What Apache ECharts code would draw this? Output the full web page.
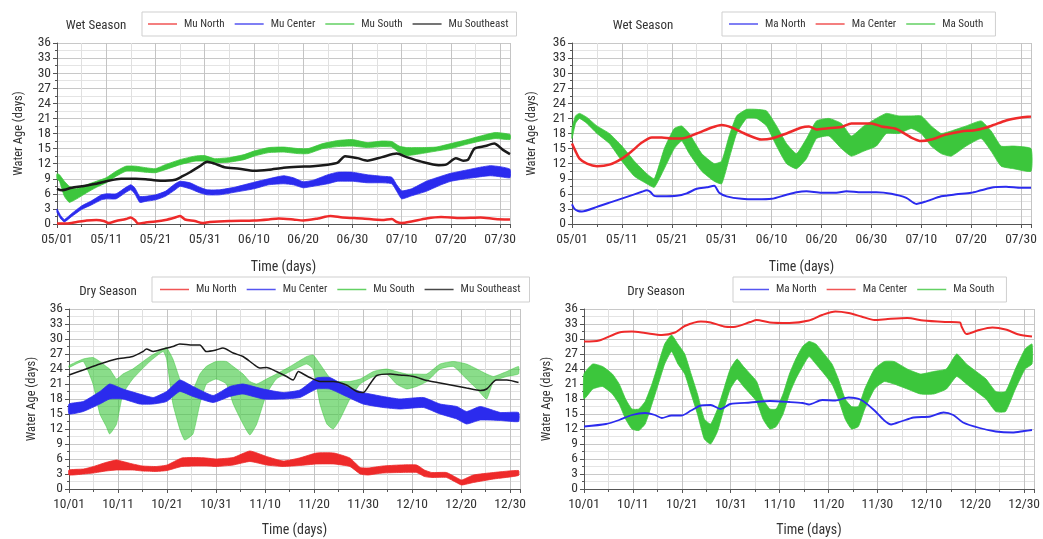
<!DOCTYPE html>
<html><head><meta charset="utf-8">
<script src="https://cdn.jsdelivr.net/npm/echarts@6/dist/echarts.min.js"></script>
<style>html,body{margin:0;padding:0;background:#fff}#c{width:1043px;height:539px}</style>
</head><body><div id="c"></div>
<script>
// ---------- tick labels ----------
const wetTicks = ['05/01','05/11','05/21','05/31','06/10','06/20','06/30','07/10','07/20','07/30'];
const dryTicks = ['10/01','10/11','10/21','10/31','11/10','11/20','11/30','12/10','12/20','12/30'];

// ---------- Wet season, Mu stations: [day, value] or [day, low, high] ----------
const muNorthWet = [[0,0.1],[2,0.1],[4,0.4],[6,0.7],[8,0.8],[9.5,0.6],[10.5,0.2],[12,0.6],[14,1.0],[15,1.3],[15.8,0.8],[16.5,0.1],[18,0.3],[20,0.5],[22,0.8],[24,1.3],[25,1.6],[26,0.9],[28,0.6],[29.5,0.2],[31,0.4],[35,0.6],[40,0.7],[43,0.9],[45,1.1],[48,0.9],[50,0.7],[53,1.1],[55.5,1.6],[58,1.3],[62,1.1],[66,0.8],[68,1.0],[69,0.4],[70,0.2],[72,0.5],[75,1.1],[78,1.4],[82,1.2],[86,1.3],[89,1.0],[92,0.9]];
const muCenterWet = [[0,2.3,3.0],[0.8,1.0,1.6],[1.5,0.4,0.9],[3,1.5,2.1],[5,2.9,3.6],[7,3.8,4.6],[9,4.8,5.8],[10,5.0,6.0],[12,5.0,6.0],[14,6.3,7.3],[15,6.8,7.8],[15.8,6.0,7.2],[16.8,4.3,5.5],[18,4.5,5.5],[20,4.8,5.8],[22,5.5,6.5],[24,6.8,8.0],[25,7.5,8.5],[27,7.0,8.2],[29,6.2,7.3],[30.5,5.8,6.8],[33,5.8,6.8],[36,6.3,7.3],[40,7.0,8.3],[43,7.8,9.0],[46,8.0,9.6],[48,7.8,9.2],[50,7.2,8.4],[52,7.5,8.7],[55,8.0,9.8],[57,8.5,10.3],[60,8.5,10.3],[63,8.2,9.8],[66,8.2,9.5],[68,8.0,9.3],[69,6.5,7.8],[70,5.0,6.6],[72,5.6,7.0],[75,6.5,8.5],[78,7.8,9.5],[80,8.5,10.1],[83,9.0,10.7],[86,9.4,11.3],[88,9.6,11.6],[90,9.4,11.4],[92,9.2,10.9]];
const muSouthWet = [[0,9.0,10.0],[0.5,8.5,9.8],[1.5,5.5,8.5],[2.5,4.3,7.5],[4,5.0,7.0],[6,6.2,7.8],[8,7.3,8.5],[10,8.2,9.2],[12,9.5,10.5],[14,10.5,11.5],[16,10.5,11.5],[18,10.3,11.2],[20,10.2,11.0],[22,10.8,11.8],[25,11.8,12.8],[28,12.5,13.5],[30,12.5,13.6],[32,12.2,13.0],[35,12.3,13.2],[38,12.8,13.8],[40,13.5,14.5],[43,14.2,15.2],[46,14.3,15.3],[49,14.0,15.0],[51,14.0,15.0],[54,15.0,16.0],[57,15.4,16.6],[60,15.5,16.8],[63,15.2,16.2],[66,15.4,16.5],[68,15.3,16.4],[69.5,14.2,15.5],[71,13.6,15.2],[74,14.0,15.2],[77,14.5,15.3],[80,15.0,16.0],[83,15.8,16.7],[86,16.5,17.5],[89,17.0,18.2],[92,16.8,17.8]];
const muSoutheastWet = [[0,7.0],[1,6.7],[3,7.2],[5,7.5],[8,8.0],[10,8.5],[13,9.0],[16,9.0],[18,8.9],[21,8.6],[24,8.8],[25.5,9.5],[27,10.3],[29,11.5],[30.5,12.4],[32,12.0],[34,11.3],[37,11.0],[40,10.6],[43,10.8],[46,11.2],[49,11.4],[52,11.5],[55,11.8],[57,12.2],[58.5,13.5],[61,13.1],[63,12.6],[66,13.3],[69,14.0],[71,13.3],[74,12.4],[77.5,11.7],[79,11.8],[81,13.1],[82.5,12.6],[83.5,12.8],[84.8,15.0],[87,15.5],[88.8,16.0],[90.5,14.8],[92,13.9]];

// ---------- Wet season, Ma stations ----------
const maNorthWet = [[0,3.9],[0.5,3.0],[1.2,2.6],[2,2.5],[5,3.4],[8,4.4],[11,5.4],[14,6.4],[15,6.7],[15.7,6.4],[16.5,5.6],[18,5.5],[21,5.6],[23,6.1],[25,7.0],[27,7.3],[28.5,7.6],[29.5,6.2],[31,5.5],[34,5.0],[37,4.9],[40,5.0],[43,5.8],[45,6.3],[47,6.5],[50,6.2],[53,6.2],[55,6.5],[58,6.3],[61,6.3],[64,6.0],[67,5.2],[69,4.0],[71,4.5],[74,5.5],[77,5.9],[80,6.2],[82,6.7],[84.5,7.3],[87,7.4],[90,7.2],[92,7.2]];
const maCenterWet = [[0,16.0],[0.7,14.5],[1.5,13.0],[3,12.0],[5,11.5],[7.5,11.8],[10,13.0],[12,14.5],[14,16.2],[16,17.2],[18,17.2],[20,17.0],[22,17.0],[25,18.0],[28,19.2],[30,19.7],[32,19.2],[35,17.8],[38,16.8],[40,17.0],[43,18.0],[46,19.2],[47.5,19.4],[49,18.8],[51,19.0],[54,19.3],[56,20.0],[58,20.0],[60,20.0],[62,19.4],[65,18.9],[68,17.2],[70,16.5],[72,16.8],[75,17.8],[78,18.4],[81,18.7],[84,19.5],[87,20.6],[90,21.2],[92,21.4]];
const maSouthWet = [[0,17.0,19.0],[0.7,20.0,21.5],[1.5,21.0,22.0],[3,20.0,21.2],[5,18.0,19.5],[7.5,16.0,18.0],[10,12.5,15.5],[12.5,9.5,12.5],[15,8.0,10.0],[16.5,7.3,9.0],[18.5,11.0,15.0],[20.5,15.0,19.0],[22,16.5,19.5],[23.5,14.0,18.0],[26,10.5,14.0],[28.5,8.5,12.0],[30,8.0,12.5],[31.5,13.0,17.5],[33,18.0,21.5],[35,21.0,22.8],[37,21.0,22.8],[39,19.5,22.5],[41,15.5,19.5],[43,12.0,16.0],[45,11.0,14.0],[47,13.0,17.0],[49,17.0,20.5],[51.5,17.5,21.0],[54,15.0,20.0],[56,13.5,17.5],[58.5,14.5,19.5],[61,15.5,21.0],[63,18.0,22.0],[65.5,18.0,21.5],[68,19.0,21.5],[70,18.0,21.5],[72,15.5,19.5],[74,14.0,18.0],[76,13.5,18.5],[79,15.5,19.5],[82,17.0,20.5],[84,14.5,18.5],[86,11.5,15.5],[88.5,11.0,15.5],[92,10.5,15.0]];

// ---------- Dry season, Mu stations ----------
const muNorthDry = [[0,2.8,3.8],[3,3.0,4.0],[5,3.2,4.5],[7.5,3.6,5.3],[9.7,3.8,5.8],[11,3.8,5.5],[13,3.8,5.0],[15,3.6,4.6],[17.8,3.5,4.5],[20,3.7,4.8],[23,4.5,6.2],[26,4.6,6.3],[28,4.6,6.2],[30,4.5,6.0],[33.5,4.8,6.3],[36.9,5.5,7.6],[40.3,4.8,6.5],[43.7,4.5,5.6],[47,4.7,6.2],[50.5,5.0,7.2],[54,5.0,7.2],[57.3,4.5,6.2],[59.4,3.0,4.3],[61,2.8,4.2],[64,3.2,4.6],[67.5,3.3,4.8],[70.9,3.3,4.8],[72.5,2.5,3.8],[74,2.3,3.3],[77,2.3,3.3],[79,1.3,2.3],[80.1,0.8,1.8],[82.5,1.3,2.8],[86.6,2.0,3.3],[91.7,2.7,3.7]];
const muCenterDry = [[0,15.0,17.0],[2.9,15.5,17.5],[6.3,17.0,19.5],[8.3,18.0,21.0],[11,18.0,20.0],[14.4,17.0,19.0],[17.2,17.0,18.3],[19.9,17.5,19.5],[22.6,19.5,21.8],[25.3,18.5,20.5],[29.4,17.3,18.7],[32.8,18.5,20.5],[35.5,19.0,21.0],[39.6,18.0,20.0],[43.7,18.0,19.3],[47.1,18.3,19.8],[50.5,20.0,22.2],[53.2,20.0,22.3],[56.6,18.5,20.5],[60,17.0,19.3],[64.1,16.3,18.5],[67.5,16.0,18.0],[72.3,16.3,18.3],[75.7,15.0,17.0],[79.1,14.0,16.5],[81.1,13.0,15.5],[83.9,13.8,16.5],[88,13.7,15.3],[91.7,13.5,15.3]];
const muSouthDry = [[0,24.3,24.7],[2.9,25.5,26.0],[4.9,21.0,26.3],[6.3,15.0,25.5],[7.6,12.5,24.5],[8.3,11.0,24.0],[9.7,13.0,22.0],[11,19.0,23.0],[13,22.0,24.0],[16.5,25.5,26.5],[19.2,27.5,28.0],[19.9,26.0,28.3],[21.2,17.0,26.0],[22.6,12.0,22.0],[23.6,9.8,20.0],[25.3,11.0,20.0],[26.7,17.0,23.0],[28,21.0,24.5],[30,22.0,25.5],[32.1,21.0,25.5],[33.5,17.0,24.5],[35.5,13.0,23.0],[36.9,10.8,21.5],[38.3,13.0,21.0],[40.3,19.0,22.0],[42.3,22.0,23.0],[45.1,23.5,24.5],[48.5,25.0,26.5],[49.8,24.0,26.8],[51.2,17.0,25.0],[52.6,13.0,23.0],[53.9,12.0,21.5],[55.3,14.0,21.5],[57.3,18.0,21.5],[59.4,21.0,22.0],[62.1,22.5,23.5],[64.8,23.0,24.0],[66.8,21.0,23.5],[68.9,20.0,23.0],[70.9,20.5,23.0],[73,21.5,23.0],[75.7,24.0,25.0],[78.4,24.5,25.5],[81.1,22.0,25.0],[83.2,20.0,24.0],[85.2,18.0,23.0],[86.6,21.5,22.5],[89.3,22.5,23.5],[91.7,23.0,24.5]];
const muSoutheastDry = [[0,22.8],[2.9,23.8],[6.3,25.0],[9.7,26.0],[13,26.5],[15.1,27.5],[15.8,28.0],[17.2,27.5],[19.2,28.0],[21.2,28.5],[22.6,29.0],[25.3,28.8],[26.7,28.8],[28,27.5],[30,27.8],[31.4,28.2],[33.5,27.2],[35.5,26.5],[37.6,25.0],[38.9,24.2],[40.3,24.3],[42.3,23.5],[44.4,22.5],[45.7,21.8],[46.8,23.5],[47.8,23.0],[49.1,22.3],[51.2,21.5],[53.9,21.5],[56.6,20.8],[58.7,19.5],[60,19.3],[61.4,21.0],[62.8,22.7],[65.5,23.0],[67.5,22.8],[70.3,22.5],[73,21.7],[75.7,21.2],[78.4,20.7],[81.1,20.2],[83.9,19.7],[85.2,20.0],[87.2,21.8],[89.3,21.8],[91.7,21.3]];

// ---------- Dry season, Ma stations ----------
const maNorthDry = [[0,12.5],[4.5,13.0],[7.2,13.8],[9.8,14.8],[12.5,15.2],[14.5,14.8],[15.9,14.2],[17.9,14.7],[19.9,14.7],[21.9,15.7],[23.9,16.7],[25.9,16.8],[27.9,16.0],[29.9,17.0],[34,17.3],[38,17.6],[42,17.4],[44.7,17.2],[46,16.9],[48.7,17.8],[51.4,17.7],[54.1,18.3],[56.7,17.8],[59.4,15.7],[61.4,13.7],[62.8,12.9],[64.8,13.5],[67.4,14.3],[70.8,14.5],[73.5,15.3],[75.5,14.8],[77.5,13.3],[80.9,12.2],[84.2,11.5],[87.6,11.3],[90,11.6],[91.6,11.8]];
const maCenterDry = [[0,29.5],[3.1,29.7],[7.2,31.3],[9.8,31.5],[12.5,31.2],[15.9,30.8],[18.6,31.3],[20.6,32.6],[23.9,33.5],[25.9,33.3],[28.6,32.5],[30.6,32.4],[34,33.4],[35.3,33.8],[38,33.3],[42,33.2],[46,33.7],[48.7,34.8],[51.4,35.5],[54.1,35.2],[56.7,34.5],[59.4,33.8],[62.1,34.0],[66.1,34.2],[69.4,33.7],[74.1,33.4],[76.9,33.3],[77.2,32.5],[78.2,31.0],[80.8,31.8],[83.5,32.3],[86.2,31.9],[88.9,30.9],[91.6,30.5]];
const maSouthDry = [[0,18.0,23.0],[1.8,20.0,25.0],[3.8,20.5,24.5],[5.8,19.0,23.0],[7.2,17.0,21.0],[8.5,14.0,18.0],[9.8,12.0,16.0],[11.2,11.7,16.0],[12.5,13.0,17.5],[13.9,17.0,21.0],[15.2,21.0,25.0],[16.5,25.0,29.0],[17.9,27.5,30.8],[19.2,25.0,29.0],[20.6,23.0,27.0],[21.9,19.0,23.0],[23.2,15.0,19.0],[24.6,10.0,14.0],[25.9,9.0,13.0],[27.3,11.5,16.0],[28.6,16.0,20.0],[29.9,20.0,24.0],[31.3,22.0,26.0],[32.6,20.5,24.5],[34,19.0,23.0],[35.3,17.5,21.5],[36.6,14.0,18.0],[38,12.0,16.0],[39.3,12.5,16.0],[40.7,15.0,19.0],[42,19.0,23.0],[43.3,22.0,26.0],[44.7,24.5,28.5],[46,26.5,29.5],[47.4,25.0,29.0],[48.7,23.5,27.5],[50.7,21.0,25.0],[52,18.0,22.0],[53.4,14.0,18.0],[54.7,12.0,16.5],[56.1,12.5,16.5],[57.4,16.0,20.0],[59.4,20.0,24.0],[61.4,21.5,25.5],[63.4,21.0,25.5],[66.1,20.0,24.0],[68.8,19.0,23.0],[71.5,19.0,23.5],[74.1,20.0,24.0],[76.2,22.5,27.0],[78.2,21.0,25.0],[80.2,19.5,23.5],[82.2,18.0,22.0],[84.2,15.5,19.5],[86.2,15.5,19.5],[88.2,20.0,24.0],[90.2,24.0,28.0],[91.6,25.0,29.0]];

// ---------- styling ----------
const RED = '#ee2a2a', BLUE = '#2b2bee', GREEN = '#3cc63c', BLACK = '#1a1a1a';
const FONT = "'Roboto Condensed','Liberation Sans',sans-serif";
const TXT = '#333';

const grids = [
  {left: 57, top: 43, width: 453, height: 181},
  {left: 572, top: 43, width: 459, height: 181},
  {left: 69, top: 309, width: 451, height: 180},
  {left: 584, top: 309, width: 458, height: 180}
];
const yNameGap = [32, 34, 31, 31];
const xNameGap = [36, 36, 34, 34];
const tickSets = [wetTicks, wetTicks, dryTicks, dryTicks];

function xAxis(i) {
  const ticks = tickSets[i];
  return {
    type: 'value', gridIndex: i, min: 0, max: 92, interval: 10,
    name: 'Time (days)', nameLocation: 'middle', nameGap: xNameGap[i],
    nameTextStyle: {fontFamily: FONT, fontSize: 14, color: TXT},
    axisLine: {show: true, onZero: false, lineStyle: {color: '#555', width: 1}},
    axisTick: {show: true, length: 4, lineStyle: {color: '#555'}},
    minorTick: {show: true, splitNumber: 2, length: 3, lineStyle: {color: '#555'}},
    splitLine: {show: true, lineStyle: {color: '#c4c4c4', width: 1}},
    minorSplitLine: {show: true, lineStyle: {color: '#e0e0e0', width: 1}},
    axisLabel: {fontFamily: FONT, fontSize: 13.5, color: TXT, margin: 9, showMaxLabel: false,
      formatter: v => (v % 10 === 0 && ticks[v / 10] !== undefined) ? ticks[v / 10] : ''}
  };
}
function yAxis(i) {
  return {
    type: 'value', gridIndex: i, min: 0, max: 36, interval: 3,
    name: 'Water Age (days)', nameLocation: 'middle', nameGap: yNameGap[i],
    nameTextStyle: {fontFamily: FONT, fontSize: 12.5, color: TXT},
    axisLine: {show: true, lineStyle: {color: '#555', width: 1}},
    axisTick: {show: true, length: 4, lineStyle: {color: '#555'}},
    minorTick: {show: true, splitNumber: 2, length: 2, lineStyle: {color: '#555'}},
    splitLine: {show: true, lineStyle: {color: '#c8c8c8', width: 1}},
    minorSplitLine: {show: true, lineStyle: {color: '#e4e4e4', width: 1}},
    axisLabel: {fontFamily: FONT, fontSize: 13.5, color: TXT, margin: 6}
  };
}
function lineS(name, data, color, idx, w) {
  return {type: 'line', name, data, xAxisIndex: idx, yAxisIndex: idx, showSymbol: false,
    smooth: 0.25, lineStyle: {color, width: w}, itemStyle: {color}, z: 3};
}
function bandS(name, data, color, idx, opacity) {
  return {
    type: 'custom', name, data, xAxisIndex: idx, yAxisIndex: idx,
    encode: {x: 0, y: [1, 2]}, itemStyle: {color}, z: 2,
    renderItem: (params, api) => {
      if (params.dataIndex !== 0) return null;
      const top = data.map(d => api.coord([d[0], d[2]]));
      const bot = data.map(d => api.coord([d[0], d[1]])).reverse();
      return {type: 'polygon', shape: {points: top.concat(bot), smooth: 0.15},
        style: {fill: color, stroke: color, lineWidth: 0.8, opacity: opacity}};
    }
  };
}
function legend(left, top, names, pad) {
  return {left, top, data: names, orient: 'horizontal', icon: 'rect', itemWidth: 29, itemHeight: 1.5,
    itemGap: 10, padding: pad, borderColor: '#cfcfcf', borderWidth: 1, borderRadius: 0,
    itemStyle: {opacity: 0.8},
    textStyle: {fontFamily: FONT, fontSize: 11, color: TXT, padding: [0, 0, 0, 2]}, selectedMode: false};
}
function title(x, y, text) {
  return {type: 'text', x, y, style: {text, fill: TXT, font: "13px 'Roboto Condensed'", align: 'center', verticalAlign: 'middle'}};
}

const option = {
  backgroundColor: '#fff',
  animation: false,
  grid: grids,
  xAxis: [0, 1, 2, 3].map(xAxis),
  yAxis: [0, 1, 2, 3].map(yAxis),
  legend: [
    legend(142, 12, ['Mu North', 'Mu Center', 'Mu South', 'Mu Southeast'], [6.5, 8, 6.5, 6]),
    legend(722, 12, ['Ma North', 'Ma Center', 'Ma South'], [6.5, 12, 6.5, 7]),
    legend(152, 277, ['Mu North', 'Mu Center', 'Mu South', 'Mu Southeast'], [7, 9, 7, 8]),
    legend(733, 277, ['Ma North', 'Ma Center', 'Ma South'], [7, 12, 7, 7])
  ],
  graphic: [
    title(96, 26, 'Wet Season'), title(643, 26, 'Wet Season'),
    title(108, 292, 'Dry Season'), title(656, 292, 'Dry Season')
  ],
  series: [
    lineS('Mu North', muNorthWet, RED, 0, 2.5),
    bandS('Mu Center', muCenterWet, BLUE, 0, 1),
    bandS('Mu South', muSouthWet, GREEN, 0, 1),
    lineS('Mu Southeast', muSoutheastWet, BLACK, 0, 2.5),

    bandS('Ma South', maSouthWet, GREEN, 1, 1),
    lineS('Ma Center', maCenterWet, RED, 1, 2.5),
    lineS('Ma North', maNorthWet, BLUE, 1, 2),

    bandS('Mu South', muSouthDry, GREEN, 2, 0.6),
    bandS('Mu North', muNorthDry, RED, 2, 1),
    bandS('Mu Center', muCenterDry, BLUE, 2, 1),
    lineS('Mu Southeast', muSoutheastDry, BLACK, 2, 1.5),

    bandS('Ma South', maSouthDry, GREEN, 3, 1),
    lineS('Ma Center', maCenterDry, RED, 3, 2),
    lineS('Ma North', maNorthDry, BLUE, 3, 1.8)
  ]
};
const chart = echarts.init(document.getElementById('c'), null, {renderer: 'canvas'});
chart.setOption(option);
</script>
</body></html>
